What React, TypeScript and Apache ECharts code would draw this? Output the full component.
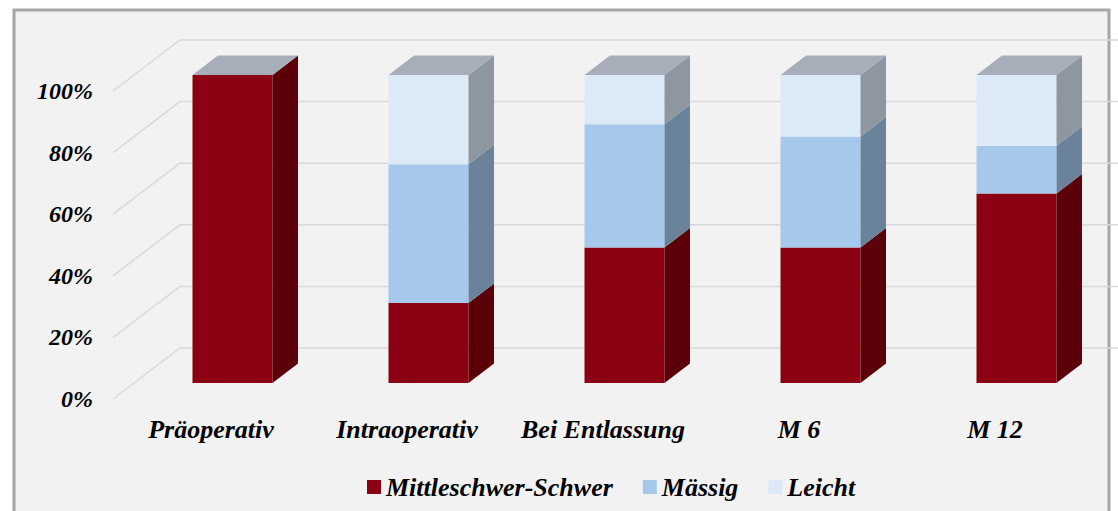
import React, { useEffect, useRef } from "react";
import * as echarts from "echarts";

const categories = ["Präoperativ", "Intraoperativ", "Bei Entlassung", "M 6", "M 12"];
const schwer = [100, 26, 44, 44, 61.5];
const maessig = [0, 45, 40, 36, 15.5];
const leicht = [0, 29, 16, 20, 23];
const yTicks = [0, 20, 40, 60, 80, 100];
const seriesNames = ["Mittleschwer-Schwer", "Mässig", "Leicht"];

const FONT = "Liberation Serif";
const FLOOR_DX = 67;
const FLOOR_DY = -51;
const OX = 21.5;
const OY = -16;
const DX = 25.5;
const DY = -19.5;
const BW = 80;

const COLORS = {
  schwer: { front: "#8b0012", side: "#5b0008" },
  maessig: { front: "#a6c9eb", side: "#6a839b" },
  leicht: { front: "#dce9f6", side: "#8e979f" },
  top: "#a7aeb9",
};

function segRender(front: string, side: string) {
  return (params: any, api: any) => {
    const i = api.value(0);
    const s = api.value(1);
    const e = api.value(2);
    if (e - s <= 0) return { type: "group", children: [] };
    const pb = api.coord([i, s]);
    const pt = api.coord([i, e]);
    const xl = pb[0] - BW / 2 + OX;
    const xr = xl + BW;
    const yb = pb[1] + OY;
    const yt = pt[1] + OY;
    return {
      type: "group",
      children: [
        { type: "rect", shape: { x: xl, y: yt, width: BW, height: yb - yt }, style: { fill: front } },
        {
          type: "polygon",
          shape: { points: [[xr, yt], [xr + DX, yt + DY], [xr + DX, yb + DY], [xr, yb]] },
          style: { fill: side },
        },
      ],
    };
  };
}

export default function App() {
  const ref = useRef<HTMLDivElement>(null);
  useEffect(() => {
    document.body.style.margin = "0";
    const chart = echarts.init(ref.current!, null, { renderer: "svg" });
    const s1 = schwer.map((v, i) => [i, 0, v]);
    const s2 = maessig.map((v, i) => [i, schwer[i], schwer[i] + v]);
    const s3 = leicht.map((v, i) => [i, schwer[i] + maessig[i], schwer[i] + maessig[i] + v]);
    const tops = categories.map((_, i) => [i, schwer[i] + maessig[i] + leicht[i]]);
    chart.setOption({
      animation: false,
      backgroundColor: "#ffffff",
      graphic: [
        {
          type: "rect",
          z: -10,
          silent: true,
          shape: { x: 14, y: 10, width: 1095, height: 520 },
          style: { fill: "#f2f2f2", stroke: "#a6a6a6", lineWidth: 3 },
        },
      ],
      grid: { left: 113, right: 25, top: 91, bottom: 112 },
      legend: {
        data: seriesNames,
        left: 362,
        top: 469,
        icon: "rect",
        itemWidth: 14,
        itemHeight: 14,
        itemGap: 30,
        textStyle: { fontFamily: FONT, fontSize: 26, fontWeight: "bold", fontStyle: "italic", color: "#000" },
      },
      xAxis: {
        type: "category",
        data: categories,
        axisLine: { show: false },
        axisTick: { show: false },
        splitLine: { show: false },
        axisLabel: {
          margin: 17,
          fontFamily: FONT,
          fontSize: 26,
          fontWeight: "bold",
          fontStyle: "italic",
          color: "#000",
          interval: 0,
        },
      },
      yAxis: {
        type: "value",
        min: 0,
        max: 100,
        interval: 20,
        axisLine: { show: false },
        axisTick: { show: false },
        splitLine: { show: false },
        axisLabel: {
          formatter: "{value}%",
          margin: 20,
          fontFamily: FONT,
          fontSize: 24,
          fontWeight: "bold",
          fontStyle: "italic",
          color: "#000",
        },
      },
      series: [
        {
          type: "custom",
          name: "walls",
          z: 1,
          silent: true,
          data: yTicks.map((v) => [0, v]),
          encode: { x: 0, y: 1 },
          renderItem: (params: any, api: any) => {
            const y = api.coord([0, api.value(1)])[1];
            const x0 = params.coordSys.x;
            const w = params.coordSys.width;
            return {
              type: "polyline",
              shape: {
                points: [
                  [x0, y],
                  [x0 + FLOOR_DX, y + FLOOR_DY],
                  [x0 + FLOOR_DX + w, y + FLOOR_DY],
                ],
              },
              style: { stroke: "#d9d9d9", lineWidth: 1.5, fill: "none" },
            };
          },
        },
        {
          type: "custom",
          name: seriesNames[0],
          z: 3,
          itemStyle: { color: COLORS.schwer.front },
          data: s1,
          encode: { x: 0, y: 2 },
          renderItem: segRender(COLORS.schwer.front, COLORS.schwer.side),
        },
        {
          type: "custom",
          name: seriesNames[1],
          z: 3,
          itemStyle: { color: COLORS.maessig.front },
          data: s2,
          encode: { x: 0, y: 2 },
          renderItem: segRender(COLORS.maessig.front, COLORS.maessig.side),
        },
        {
          type: "custom",
          name: seriesNames[2],
          z: 3,
          itemStyle: { color: COLORS.leicht.front },
          data: s3,
          encode: { x: 0, y: 2 },
          renderItem: segRender(COLORS.leicht.front, COLORS.leicht.side),
        },
        {
          type: "custom",
          name: "tops",
          z: 4,
          silent: true,
          data: tops,
          encode: { x: 0, y: 1 },
          renderItem: (params: any, api: any) => {
            const p = api.coord([api.value(0), api.value(1)]);
            const xl = p[0] - BW / 2 + OX;
            const xr = xl + BW;
            const yt = p[1] + OY;
            return {
              type: "polygon",
              shape: { points: [[xl, yt], [xl + DX, yt + DY], [xr + DX, yt + DY], [xr, yt]] },
              style: { fill: COLORS.top },
            };
          },
        },
      ],
    });
    return () => chart.dispose();
  }, []);
  return <div ref={ref} style={{ width: 1118, height: 511 }} />;
}
